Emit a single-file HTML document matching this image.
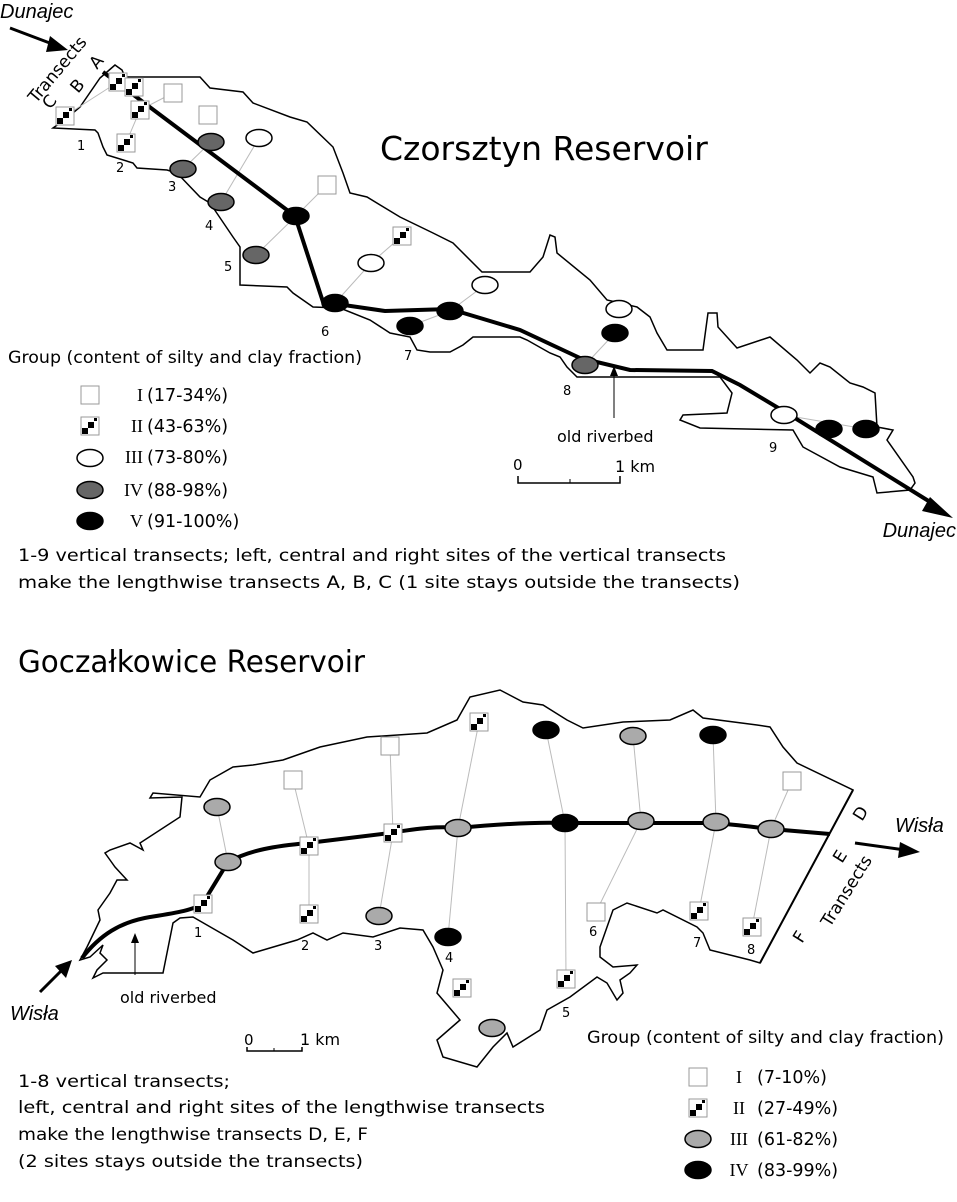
<!DOCTYPE html>
<html><head><meta charset="utf-8"><style>
html,body{margin:0;padding:0;background:#fff}
svg{display:block}
text{font-family:"DejaVu Sans","Liberation Sans",sans-serif;fill:#000}
.s{font-family:"Liberation Serif",serif}
.it{font-family:"Liberation Sans",sans-serif;font-style:italic}
</style></head><body>
<svg width="957" height="1202" viewBox="0 0 957 1202" xmlns="http://www.w3.org/2000/svg">
<defs>
<g id="sq"><rect x="-9" y="-9" width="18" height="18" fill="#fff" stroke="#999" stroke-width="1"/></g>
<g id="ck"><rect x="-9" y="-9" width="18" height="18" fill="#fff" stroke="#999" stroke-width="1"/><rect x="-8" y="2" width="6" height="6" fill="#000"/><rect x="-2" y="-4" width="6" height="6" fill="#000"/><rect x="4" y="-8" width="3" height="3" fill="#000"/></g>
<g id="wh"><ellipse rx="13" ry="8.5" fill="#fff" stroke="#000" stroke-width="1.5"/></g>
<g id="dg"><ellipse rx="13" ry="8.5" fill="#666" stroke="#000" stroke-width="1.5"/></g>
<g id="lg"><ellipse rx="13" ry="8.5" fill="#aaa" stroke="#000" stroke-width="1.5"/></g>
<g id="bk"><ellipse rx="13" ry="8.5" fill="#000" stroke="#000" stroke-width="1.5"/></g>
</defs>

<text x="0" y="18" class="it" font-size="20">Dunajec</text>
<line x1="10" y1="28" x2="55" y2="45" stroke="#000" stroke-width="3"/>
<polygon points="68,50 50,36 46,52" fill="#000"/>
<text transform="translate(36,104) rotate(-50)" font-size="17" font-family="Liberation Sans">Transects</text>
<text transform="translate(50,110) rotate(-50)" font-size="17" font-family="Liberation Sans">C</text>
<text transform="translate(78,94) rotate(-50)" font-size="17" font-family="Liberation Sans">B</text>
<text transform="translate(97,70) rotate(-50)" font-size="17" font-family="Liberation Sans">A</text>

<polygon fill="none" stroke="#000" stroke-width="1.5" points="115,65 122,70 125,77 200,77 210,88 243,92 253,103 290,117 307,122 333,147 343,173 350,193 367,197 400,217 433,233 453,243 460,250 482,272 530,272 543,257 550,235 555,237 557,253 590,280 607,300 637,307 650,317 657,333 667,350 703,350 708,313 717,313 718,327 737,348 770,337 797,360 810,373 820,363 830,367 850,383 863,387 875,393 877,427 893,430 887,440 913,477 915,483 910,490 877,493 873,477 840,467 803,447 793,430 700,428 680,420 683,415 727,413 732,393 720,377 577,377 567,367 560,357 550,353 527,340 520,337 473,337 463,345 450,352 430,352 417,350 410,337 390,333 370,320 340,308 313,307 293,293 287,287 240,285 240,247 233,237 210,203 200,197 177,173 167,170 137,168 133,163 107,155 103,147 98,133 95,130 53,128 67,118 80,107 100,78"/>

<g stroke="#bbb" stroke-width="1" fill="none">
<polyline points="65,116 118,82"/><polyline points="126,143 140,110 173,93"/><polyline points="183,169 211,142"/>
<polyline points="221,202 259,138"/><polyline points="256,255 296,216 327,185"/><polyline points="335,303 371,263 402,236"/>
<polyline points="410,326 450,311 485,285"/><polyline points="585,365 615,333"/><polyline points="784,415 866,429"/>
</g>
<polyline fill="none" stroke="#000" stroke-width="4" points="103,72 295,216 323,302 385,311 450,309 520,330 580,358 630,370 712,371 740,385 790,415 935,505"/>
<polygon points="953,518 930,497 922,511" fill="#000"/>

<use href="#ck" x="118" y="82"/><use href="#ck" x="134" y="87"/><use href="#ck" x="65" y="116"/><use href="#ck" x="140" y="110"/><use href="#ck" x="126" y="143"/><use href="#ck" x="402" y="236"/>
<use href="#sq" x="173" y="93"/><use href="#sq" x="208" y="115"/><use href="#sq" x="327" y="185"/>
<use href="#dg" x="211" y="142"/><use href="#dg" x="183" y="169"/><use href="#dg" x="221" y="202"/><use href="#dg" x="256" y="255"/><use href="#dg" x="585" y="365"/>
<use href="#wh" x="259" y="138"/><use href="#wh" x="371" y="263"/><use href="#wh" x="485" y="285"/><use href="#wh" x="619" y="309"/><use href="#wh" x="784" y="415"/>
<use href="#bk" x="296" y="216"/><use href="#bk" x="335" y="303"/><use href="#bk" x="410" y="326"/><use href="#bk" x="450" y="311"/><use href="#bk" x="615" y="333"/><use href="#bk" x="829" y="429"/><use href="#bk" x="866" y="429"/>

<g font-size="13" font-family="Liberation Sans">
<text x="77" y="150">1</text><text x="116" y="172">2</text><text x="168" y="191">3</text><text x="205" y="230">4</text><text x="224" y="271">5</text><text x="321" y="336">6</text><text x="404" y="360">7</text><text x="563" y="395">8</text><text x="769" y="452">9</text>
</g>
<text x="380" y="160" font-size="33" font-family="Liberation Sans">Czorsztyn Reservoir</text>
<line x1="614" y1="372" x2="614" y2="418" stroke="#000" stroke-width="1"/>
<polygon points="614,366 610,376 618,376" fill="#000"/>
<text x="557" y="442" font-size="16" font-family="Liberation Sans">old riverbed</text>
<text x="513" y="470" font-size="15" font-family="Liberation Sans">0</text>
<text x="615" y="472" font-size="16" font-family="Liberation Sans">1 km</text>
<polyline points="518,476 518,483 620,483 620,476" fill="none" stroke="#000" stroke-width="1.5"/>
<line x1="570" y1="479" x2="570" y2="483" stroke="#000"/>
<text x="956" y="537" class="it" font-size="20" text-anchor="end">Dunajec</text>

<text x="8" y="363" font-size="17" textLength="354" lengthAdjust="spacingAndGlyphs">Group (content of silty and clay fraction)</text>
<use href="#sq" x="90" y="395"/><use href="#ck" x="90" y="426"/><use href="#wh" x="90" y="458"/><use href="#dg" x="90" y="490"/><use href="#bk" x="90" y="521"/>
<g font-size="18" class="s" text-anchor="end">
<text x="143" y="401" class="s">I</text><text x="143" y="432" class="s">II</text><text x="143" y="463" class="s">III</text><text x="143" y="496" class="s">IV</text><text x="143" y="527" class="s">V</text>
</g>
<g font-size="17.5">
<text x="147" y="401">(17-34%)</text><text x="147" y="432">(43-63%)</text><text x="147" y="463">(73-80%)</text><text x="147" y="496">(88-98%)</text><text x="147" y="527">(91-100%)</text>
</g>
<text x="18" y="561" font-size="17" textLength="708" lengthAdjust="spacingAndGlyphs">1-9 vertical transects; left, central and right sites of the vertical transects</text>
<text x="18" y="588" font-size="17" textLength="722" lengthAdjust="spacingAndGlyphs">make the lengthwise transects A, B, C  (1 site stays outside the transects)</text>

<text x="18" y="672" font-size="30" font-family="Liberation Sans" textLength="347" lengthAdjust="spacingAndGlyphs">Goczałkowice Reservoir</text>
<polygon fill="none" stroke="#000" stroke-width="1.5" points="80,960 87,947 100,920 98,910 110,893 117,880 127,880 115,867 110,860 105,853 110,850 130,843 143,850 140,843 180,817 182,797 150,798 153,793 200,797 210,780 233,767 253,765 283,760 320,747 367,737 427,733 457,720 470,697 500,690 523,702 543,705 567,720 583,728 623,722 670,720 693,710 703,718 757,725 770,727 783,747 797,763 853,790 760,963 750,960 710,950 703,933 697,927 663,910 657,913 627,903 613,910 600,947 600,957 613,967 637,965 630,973 620,980 623,993 617,1000 607,983 597,977 570,997 547,1010 540,1030 513,1047 507,1033 493,1047 477,1067 443,1057 437,1040 460,1020 437,993 443,970 433,947 423,930 400,928 373,937 343,933 327,940 313,933 297,940 253,953 233,940 193,917 180,918 173,923 163,973 137,973 103,973 93,978 97,970 107,960 100,953 103,945 90,957"/>
<line x1="853" y1="790" x2="760" y2="963" stroke="#000" stroke-width="2"/>

<g stroke="#bbb" stroke-width="1" fill="none">
<line x1="217" y1="807" x2="228" y2="862"/><line x1="293" y1="780" x2="309" y2="846"/><line x1="309" y1="846" x2="309" y2="914"/>
<line x1="390" y1="746" x2="393" y2="833"/><line x1="393" y1="833" x2="379" y2="916"/><line x1="479" y1="722" x2="458" y2="828"/><line x1="458" y1="828" x2="448" y2="937"/>
<line x1="546" y1="730" x2="565" y2="823"/><line x1="565" y1="823" x2="566" y2="979"/><line x1="633" y1="736" x2="641" y2="821"/><line x1="641" y1="821" x2="596" y2="912"/>
<line x1="713" y1="735" x2="716" y2="822"/><line x1="716" y1="822" x2="699" y2="911"/><line x1="792" y1="781" x2="771" y2="829"/><line x1="771" y1="829" x2="752" y2="927"/>
</g>
<path d="M82,958 C100,935 120,922 150,917 C175,913 195,910 203,903 L228,862 C250,850 275,846 308,843 L390,833 C420,828 440,826 458,828 C500,824 540,822 565,823 L640,823 L715,823 C740,825 760,828 771,829 L830,834" fill="none" stroke="#000" stroke-width="4"/>
<line x1="855" y1="843" x2="905" y2="850" stroke="#000" stroke-width="3"/>
<polygon points="920,852 900,842 898,858" fill="#000"/>
<line x1="40" y1="992" x2="62" y2="970" stroke="#000" stroke-width="3"/>
<polygon points="72,960 55,966 66,978" fill="#000"/>

<use href="#sq" x="293" y="780"/><use href="#sq" x="390" y="746"/><use href="#sq" x="792" y="781"/><use href="#sq" x="596" y="912"/>
<use href="#ck" x="479" y="722"/><use href="#ck" x="309" y="846"/><use href="#ck" x="393" y="833"/><use href="#ck" x="203" y="904"/><use href="#ck" x="309" y="914"/><use href="#ck" x="462" y="988"/><use href="#ck" x="566" y="979"/><use href="#ck" x="699" y="911"/><use href="#ck" x="752" y="927"/>
<use href="#lg" x="217" y="807"/><use href="#lg" x="228" y="862"/><use href="#lg" x="458" y="828"/><use href="#lg" x="641" y="821"/><use href="#lg" x="716" y="822"/><use href="#lg" x="771" y="829"/><use href="#lg" x="379" y="916"/><use href="#lg" x="492" y="1028"/><use href="#lg" x="633" y="736"/>
<use href="#bk" x="546" y="730"/><use href="#bk" x="713" y="735"/><use href="#bk" x="565" y="823"/><use href="#bk" x="448" y="937"/>

<g font-size="13" font-family="Liberation Sans">
<text x="194" y="937">1</text><text x="301" y="950">2</text><text x="374" y="950">3</text><text x="445" y="962">4</text><text x="562" y="1017">5</text><text x="589" y="936">6</text><text x="693" y="947">7</text><text x="747" y="954">8</text>
</g>
<text transform="translate(830,928) rotate(-58)" font-size="17" font-family="Liberation Sans">Transects</text>
<text transform="translate(862,822) rotate(-58)" font-size="17" font-family="Liberation Sans">D</text>
<text transform="translate(842,864) rotate(-58)" font-size="17" font-family="Liberation Sans">E</text>
<text transform="translate(802,944) rotate(-58)" font-size="17" font-family="Liberation Sans">F</text>
<text x="895" y="832" class="it" font-size="20">Wisła</text>
<text x="10" y="1020" class="it" font-size="20">Wisła</text>
<line x1="135" y1="940" x2="135" y2="975" stroke="#000" stroke-width="1"/>
<polygon points="135,933 131,943 139,943" fill="#000"/>
<text x="120" y="1003" font-size="16" font-family="Liberation Sans">old riverbed</text>
<text x="244" y="1045" font-size="15" font-family="Liberation Sans">0</text>
<text x="300" y="1045" font-size="16" font-family="Liberation Sans">1 km</text>
<polyline points="247,1047 247,1051 302,1051 302,1047" fill="none" stroke="#000" stroke-width="1.5"/>
<line x1="274" y1="1048" x2="274" y2="1051" stroke="#000"/>

<text x="18" y="1087" font-size="17" textLength="212" lengthAdjust="spacingAndGlyphs">1-8 vertical transects;</text>
<text x="18" y="1113" font-size="17" textLength="527" lengthAdjust="spacingAndGlyphs">left, central and right sites of the lengthwise transects</text>
<text x="18" y="1140" font-size="17" textLength="350" lengthAdjust="spacingAndGlyphs">make the lengthwise transects D, E, F</text>
<text x="18" y="1167" font-size="17" textLength="345" lengthAdjust="spacingAndGlyphs">(2 sites stays outside the transects)</text>

<text x="587" y="1043" font-size="17" textLength="357" lengthAdjust="spacingAndGlyphs">Group (content of silty and clay fraction)</text>
<use href="#sq" x="698" y="1077"/><use href="#ck" x="698" y="1108"/><use href="#lg" x="698" y="1139"/><use href="#bk" x="698" y="1170"/>
<g font-size="18" class="s" text-anchor="middle">
<text x="739" y="1083" class="s">I</text><text x="739" y="1114" class="s">II</text><text x="739" y="1145" class="s">III</text><text x="739" y="1176" class="s">IV</text>
</g>
<g font-size="17.5">
<text x="757" y="1083">(7-10%)</text><text x="757" y="1114">(27-49%)</text><text x="757" y="1145">(61-82%)</text><text x="757" y="1176">(83-99%)</text>
</g>
</svg>
</body></html>
